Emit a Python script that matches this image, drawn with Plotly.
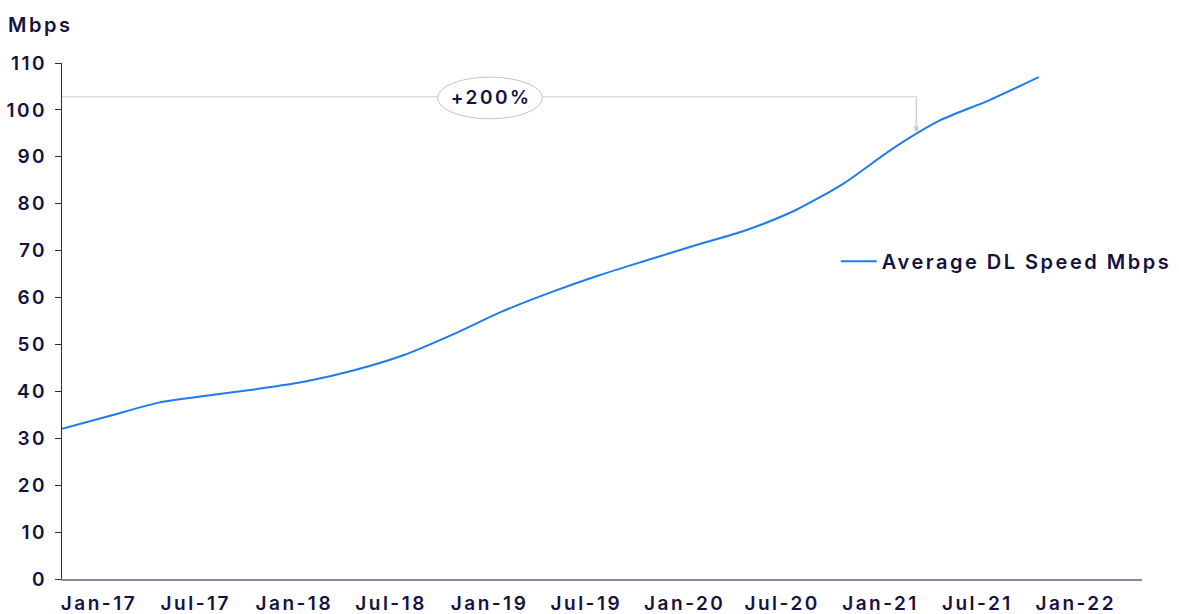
import plotly.graph_objects as go

# Quarterly readings, Jan-17 .. Jan-22
dates = ["2017-01-01", "2017-04-01", "2017-07-01", "2017-10-01",
         "2018-01-01", "2018-04-01", "2018-07-01", "2018-10-01",
         "2019-01-01", "2019-04-01", "2019-07-01", "2019-10-01",
         "2020-01-01", "2020-04-01", "2020-07-01", "2020-10-01",
         "2021-01-01", "2021-04-01", "2021-07-01", "2021-10-01",
         "2022-01-01"]
speed = [32.0, 34.8, 37.6, 39.1,
         40.5, 42.1, 44.5, 47.7,
         52.1, 56.9, 61.0, 64.7,
         68.0, 71.2, 74.3, 78.5,
         84.3, 91.6, 97.8, 102.1,
         107.0]
series_name = "Average DL Speed Mbps"
tick_vals = ["2017-01-01", "2017-07-01", "2018-01-01", "2018-07-01",
             "2019-01-01", "2019-07-01", "2020-01-01", "2020-07-01",
             "2021-01-01", "2021-07-01", "2022-01-01"]
tick_text = ["Jan-17", "Jul-17", "Jan-18", "Jul-18", "Jan-19", "Jul-19",
             "Jan-20", "Jul-20", "Jan-21", "Jul-21", "Jan-22"]
y_ticks = list(range(0, 111, 10))
growth_label = "+200%"
y_title = "Mbps"

NAVY = "#16123f"
FONT = "Inter"

fig = go.Figure()
fig.add_trace(go.Scatter(
    x=dates, y=speed, mode="lines", name=series_name,
    line=dict(color="#1f7bf0", width=2, shape="spline", smoothing=0.7),
    showlegend=True,
))

# annotation connector: horizontal line from axis to above the curve, then arrow down
ref_y = 102.8
arrow_x = "2021-05-17"
fig.add_shape(type="line", xref="paper", yref="y", x0=0, x1=0.7917,
              y0=ref_y, y1=ref_y, line=dict(color="#cfcfcf", width=1.2))
fig.add_annotation(x=arrow_x, y=95.2, ax=arrow_x, ay=ref_y,
                   xref="x", yref="y", axref="x", ayref="y",
                   showarrow=True, arrowhead=2, arrowsize=1, arrowwidth=1.2,
                   arrowcolor="#c8c8c8", text="")
fig.add_shape(type="circle", xref="x", yref="y",
              x0="2018-12-04", x1="2019-06-18", y0=98.1, y1=107.0,
              line=dict(color="#c4c4c4", width=1), fillcolor="white")
fig.add_annotation(x="2019-03-14", y=102.6, xref="x", yref="y",
                   text=growth_label, showarrow=False,
                   font=dict(family=FONT, size=19, color=NAVY, weight=600))

fig.add_annotation(x=-0.0472, y=1.074, xref="paper", yref="paper",
                   xanchor="left", yanchor="middle", text=y_title, showarrow=False,
                   font=dict(family=FONT, size=20, color=NAVY, weight=600))

fig.update_layout(
    width=1179, height=614,
    margin=dict(l=62, r=37, t=63, b=35, autoexpand=False),
    paper_bgcolor="white", plot_bgcolor="white",
    font=dict(family=FONT, size=19, color=NAVY, weight=600),
    legend=dict(x=0.7165, y=0.616, xanchor="left", yanchor="middle",
                bgcolor="rgba(0,0,0,0)",
                font=dict(family=FONT, size=20, color=NAVY, weight=600),
                itemwidth=36),
    xaxis=dict(type="date", range=["2017-01-01", "2022-07-13"],
               tickvals=tick_vals, ticktext=tick_text, automargin=False,
               showgrid=False, zeroline=False, showline=True,
               linecolor="#8a86a6", linewidth=2, ticks="",
               ticklabelshift=37, ticklabelstandoff=6,
               tickfont=dict(family=FONT, size=19, color=NAVY, weight=600)),
    yaxis=dict(range=[0, 110], tickvals=y_ticks, automargin=False,
               showgrid=False, zeroline=False, showline=True,
               linecolor="#2a2555", linewidth=1.2, ticks="outside",
               ticklen=6, tickcolor="#2a2555", ticklabelstandoff=4,
               tickfont=dict(family=FONT, size=19, color=NAVY, weight=600)),
)

# page has no margin; the reference typography is widely tracked
css_js = (
    "document.body.style.margin='0';"
    "var s=document.createElement('style');"
    "s.textContent='.js-plotly-plot svg text{letter-spacing:2.5px !important;}';"
    "document.head.appendChild(s);"
    "document.querySelectorAll('.js-plotly-plot .legend [clip-path]')"
    ".forEach(function(e){e.removeAttribute('clip-path');});"
)
fig.write_html("out.html", post_script=css_js, config={"displayModeBar": False})
